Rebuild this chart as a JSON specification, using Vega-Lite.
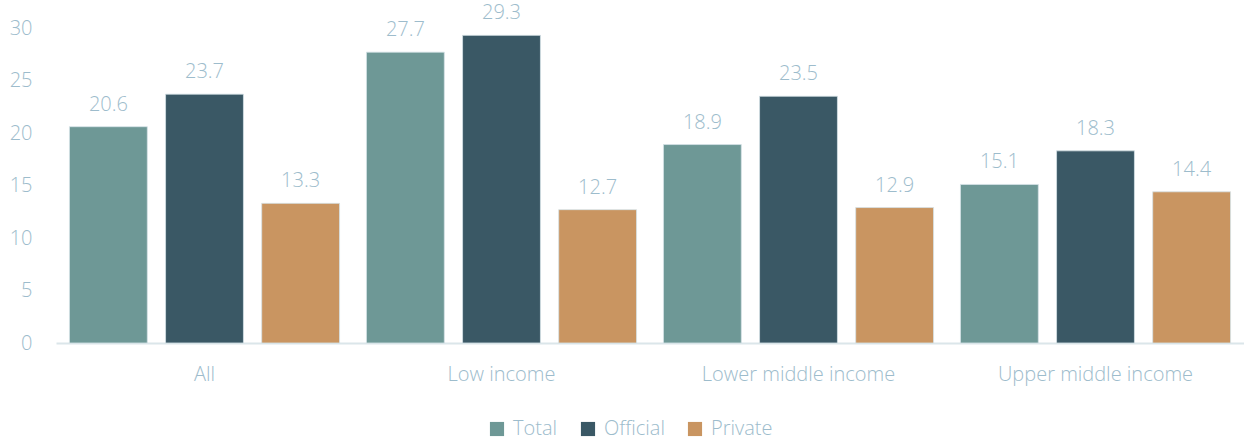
{
  "$schema": "https://vega.github.io/schema/vega-lite/v6.json",
  "width": 1188,
  "height": 315,
  "autosize": {"type": "none"},
  "padding": {"left": 56, "top": 28, "right": 0, "bottom": 95},
  "background": "white",
  "config": {
    "view": {"stroke": null},
    "font": "Open Sans",
    "axis": {"labelFont": "Open Sans", "labelFontWeight": 300, "labelColor": "#9dbccc", "labelFontSize": 20, "labelLimit": 0, "grid": false, "ticks": false, "title": null}
  },
  "data": {
    "values": [
      {"group": "All", "series": "Total", "value": 20.6},
      {"group": "All", "series": "Official", "value": 23.7},
      {"group": "All", "series": "Private", "value": 13.3},
      {"group": "Low income", "series": "Total", "value": 27.7},
      {"group": "Low income", "series": "Official", "value": 29.3},
      {"group": "Low income", "series": "Private", "value": 12.7},
      {"group": "Lower middle income", "series": "Total", "value": 18.9},
      {"group": "Lower middle income", "series": "Official", "value": 23.5},
      {"group": "Lower middle income", "series": "Private", "value": 12.9},
      {"group": "Upper middle income", "series": "Total", "value": 15.1},
      {"group": "Upper middle income", "series": "Official", "value": 18.3},
      {"group": "Upper middle income", "series": "Private", "value": 14.4}
    ]
  },
  "encoding": {
    "x": {
      "field": "group", "type": "nominal", "sort": null,
      "scale": {"paddingInner": 0, "paddingOuter": 0},
      "axis": {"labelAngle": 0, "labelPadding": 21, "domain": true, "domainColor": "#dbe6ea", "domainWidth": 2, "labelFontSize": 20}
    },
    "xOffset": {
      "field": "series", "type": "nominal", "sort": ["Total", "Official", "Private"],
      "scale": {"paddingInner": 0.19, "paddingOuter": 0.14}
    },
    "y": {
      "field": "value", "type": "quantitative",
      "scale": {"domain": [0, 30], "nice": false},
      "axis": {"values": [0, 5, 10, 15, 20, 25, 30], "domain": false, "labelPadding": 24, "labelFontSize": 20}
    }
  },
  "layer": [
    {
      "mark": {"type": "bar", "stroke": "#d5e2e7", "strokeWidth": 0.8},
      "encoding": {
        "color": {
          "field": "series", "type": "nominal", "sort": ["Total", "Official", "Private"],
          "scale": {"domain": ["Total", "Official", "Private"], "range": ["#6e9896", "#3a5865", "#c99561"]},
          "legend": {
            "title": null, "orient": "none", "direction": "horizontal",
            "legendX": 431, "legendY": 391,
            "symbolType": "square", "symbolSize": 200, "symbolStrokeWidth": 0,
            "labelFont": "Open Sans", "labelFontWeight": 300, "labelFontSize": 20, "labelColor": "#9dbccc",
            "labelOffset": 6, "columnPadding": 20
          }
        }
      }
    },
    {
      "mark": {"type": "text", "baseline": "alphabetic", "dy": -16, "font": "Open Sans", "fontWeight": 300, "fontSize": 20, "color": "#9dbccc"},
      "encoding": {
        "text": {"field": "value", "type": "quantitative", "format": ".1f"}
      }
    }
  ]
}
